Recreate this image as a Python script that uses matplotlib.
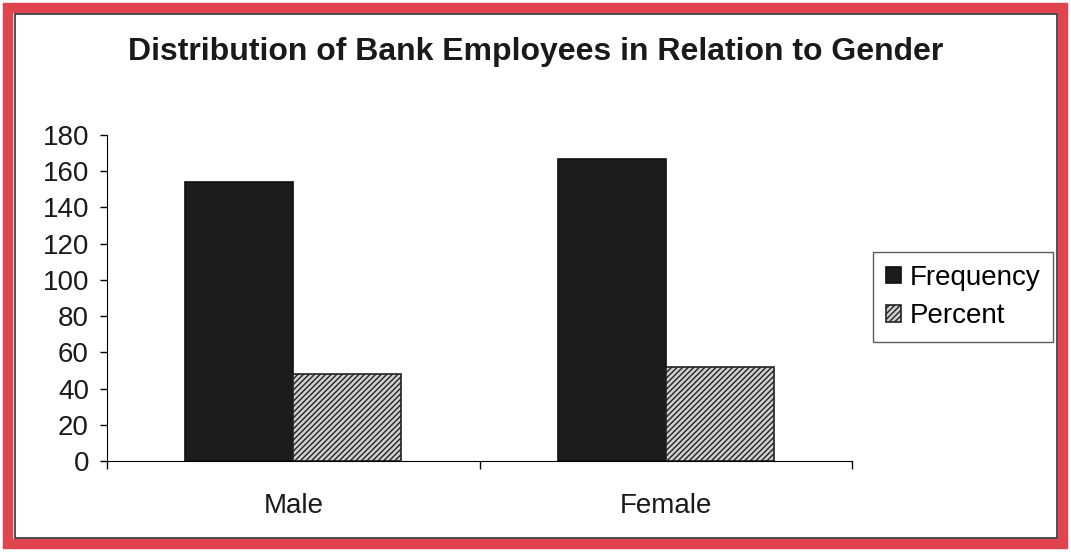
import numpy as np
import matplotlib.pyplot as plt
from matplotlib.patches import Rectangle

plt.rcParams['font.family'] = ['Liberation Sans', 'DejaVu Sans']
plt.rcParams['hatch.linewidth'] = 1.0

# data
categories = ["Male", "Female"]
frequency = [154, 167]
percent = [48, 52]
y_ticks = [0, 20, 40, 60, 80, 100, 120, 140, 160, 180]

W, H = 1071, 552
fig = plt.figure(figsize=(W / 100, H / 100), dpi=100)
fig.patch.set_facecolor("white")

# red frame round the whole chart, with a thin dark line inside it
fig.patches.append(Rectangle((8 / W, 8 / H), 1 - 16 / W, 1 - 16 / H, transform=fig.transFigure,
                             fill=False, edgecolor="#e0444f", linewidth=7.5, zorder=0))
fig.patches.append(Rectangle((14.5 / W, 14 / H), 1 - 29 / W, 1 - 28 / H, transform=fig.transFigure,
                             fill=False, edgecolor="#333333", linewidth=1.2, zorder=1))

ax = fig.add_axes([107 / W, 1 - 461 / H, 745 / W, 326 / H])
x = np.arange(len(categories))
w = 0.29
b1 = ax.bar(x - w / 2, frequency, w, color="#1c1c1c", edgecolor="#111111",
            linewidth=1.2, label="Frequency")
b2 = ax.bar(x + w / 2, percent, w, color="#d0d0d0", edgecolor="#222222",
            hatch="//////", linewidth=1.2, label="Percent")

ax.set_xlim(-0.5, 1.5)
ax.set_ylim(0, 180)
ax.set_yticks(y_ticks)
ax.set_xticks([-0.5, 0.5, 1.5])
ax.set_xticklabels([])
ax.set_xticks(x, minor=True)
ax.set_xticklabels(categories, minor=True)
ax.tick_params(axis="x", which="minor", length=0, pad=23, labelsize=20, labelcolor="#1a1a1a")
ax.tick_params(axis="x", which="major", length=6, direction="out", width=1)
ax.tick_params(axis="y", length=5, direction="out", width=1, labelsize=20, pad=8,
               labelcolor="#1a1a1a")
ax.spines["top"].set_visible(False)
ax.spines["right"].set_visible(False)
ax.set_facecolor("white")

fig.text(536 / W, 1 - 52 / H, "Distribution of Bank Employees in Relation to Gender",
         ha="center", va="center", fontsize=23, fontweight="bold", color="#1a1a1a")

leg = fig.legend(handles=[b1, b2], loc="center", bbox_to_anchor=(963 / W, 1 - 297 / H),
                 fontsize=20, frameon=True, fancybox=False, edgecolor="#333333",
                 handlelength=0.55, handleheight=0.55, handletextpad=0.3,
                 borderpad=0.45, labelspacing=0.45, borderaxespad=0)
leg.get_frame().set_linewidth(1.0)

fig.savefig("out.png", dpi=100)
